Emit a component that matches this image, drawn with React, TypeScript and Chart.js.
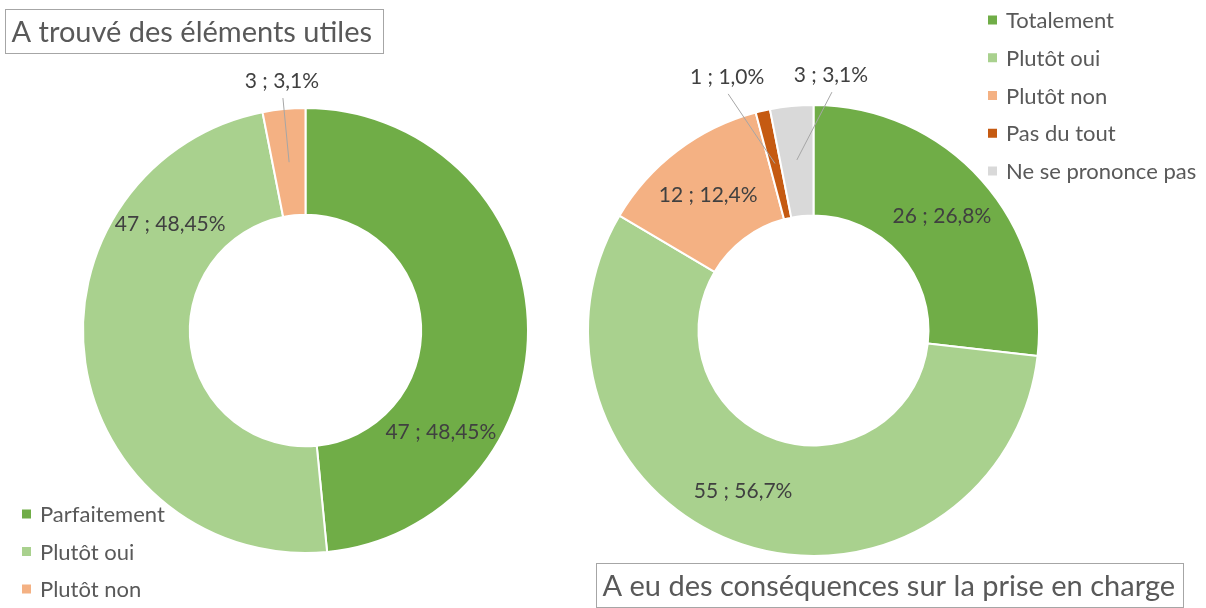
import React, { useEffect, useRef } from "react";
import { Chart, registerables } from "chart.js";

Chart.register(...registerables);

const FONT = "Lato, 'Open Sans', sans-serif";

// ---- Left chart data ----
const leftTitle = "A trouvé des éléments utiles";
const leftCategories = ["Parfaitement", "Plutôt oui", "Plutôt non"];
const leftValues = [47, 47, 3];
const leftPercents = ["48,45%", "48,45%", "3,1%"];
const leftColors = ["#70AD47", "#A9D18E", "#F4B183"];

// ---- Right chart data ----
const rightTitle = "A eu des conséquences sur la prise en charge";
const rightCategories = ["Totalement", "Plutôt oui", "Plutôt non", "Pas du tout", "Ne se prononce pas"];
const rightValues = [26, 55, 12, 1, 3];
const rightPercents = ["26,8%", "56,7%", "12,4%", "1,0%", "3,1%"];
const rightColors = ["#70AD47", "#A9D18E", "#F4B183", "#C55A11", "#D9D9D9"];

// label placement: [angle in degrees (clockwise from 3 o'clock), radius ratio, leader line]
const leftLabelPlacement: [number, number, boolean][] = [
  [36.8, 0.76, false],
  [218.2, 0.774, false],
  [-95.4, 1.126, true],
];
const rightLabelPlacement: [number, number, boolean][] = [
  [-41.7, 0.763, false],
  [113.6, 0.78, false],
  [-127.9, 0.76, false],
  [-108.8, 1.188, true],
  [-86.1, 1.135, true],
];

type Cfg = {
  title: string;
  categories: string[];
  values: number[];
  percents: string[];
  colors: string[];
  placement: [number, number, boolean][];
  padding: { left: number; right: number; top: number; bottom: number };
  radius: number;
  cutout: string;
  titleBox: { x: number; y: number; w: number; h: number };
  legend: { x: number; y: number; step: number };
};

const leftCfg: Cfg = {
  title: leftTitle,
  categories: leftCategories,
  values: leftValues,
  percents: leftPercents,
  colors: leftColors,
  placement: leftLabelPlacement,
  padding: { left: 75.5, right: 670.5, top: 100.5, bottom: 47.5 },
  radius: 222.5,
  cutout: "52%",
  titleBox: { x: 5.5, y: 9.5, w: 378, h: 44 },
  legend: { x: 22, y: 514, step: 37.5 },
};

const rightCfg: Cfg = {
  title: rightTitle,
  categories: rightCategories,
  values: rightValues,
  percents: rightPercents,
  colors: rightColors,
  placement: rightLabelPlacement,
  padding: { left: 583.5, right: 162.5, top: 100.5, bottom: 47.5 },
  radius: 225.5,
  cutout: "51%",
  titleBox: { x: 596.5, y: 563.5, w: 587, h: 44 },
  legend: { x: 988, y: 20, step: 37.75 },
};

function makeOverlay(cfg: Cfg) {
  return {
    id: "overlay",
    afterDraw(chart: any) {
      const ctx: CanvasRenderingContext2D = chart.ctx;
      const meta = chart.getDatasetMeta(0);
      const ds = chart.data.datasets[0];
      ctx.save();
      // data labels
      meta.data.forEach((arc: any, i: number) => {
        const p = arc.getProps(["x", "y", "startAngle", "endAngle", "outerRadius"], true);
        const [angDeg, ratio, leader] = cfg.placement[i];
        const a = (angDeg * Math.PI) / 180;
        const lx = p.x + Math.cos(a) * ratio * p.outerRadius;
        const ly = p.y + Math.sin(a) * ratio * p.outerRadius;
        if (leader) {
          const mid = (p.startAngle + p.endAngle) / 2;
          const ex = p.x + Math.cos(mid) * 0.76 * p.outerRadius;
          const ey = p.y + Math.sin(mid) * 0.76 * p.outerRadius;
          ctx.strokeStyle = "#A6A6A6";
          ctx.lineWidth = 1;
          ctx.beginPath();
          ctx.moveTo(lx + 1, ly + 17);
          ctx.lineTo(ex, ey);
          ctx.stroke();
        }
        ctx.fillStyle = "#404040";
        ctx.font = `21px ${FONT}`;
        ctx.textAlign = "center";
        ctx.textBaseline = "middle";
        ctx.fillText(`${ds.data[i]} ; ${cfg.percents[i]}`, lx, ly);
      });
      // legend
      const labels: string[] = chart.data.labels;
      labels.forEach((lab, i) => {
        const y = cfg.legend.y + i * cfg.legend.step;
        ctx.fillStyle = ds.backgroundColor[i];
        ctx.fillRect(cfg.legend.x, y - 4.5, 9, 9);
        ctx.fillStyle = "#595959";
        ctx.font = `22px ${FONT}`;
        ctx.textAlign = "left";
        ctx.textBaseline = "middle";
        ctx.fillText(lab, cfg.legend.x + 18, y + 1);
      });
      // title box
      const b = cfg.titleBox;
      ctx.strokeStyle = "#A6A6A6";
      ctx.lineWidth = 1;
      ctx.strokeRect(b.x, b.y, b.w, b.h);
      ctx.fillStyle = "#595959";
      ctx.font = `29px ${FONT}`;
      ctx.textAlign = "left";
      ctx.textBaseline = "middle";
      ctx.fillText(cfg.title, b.x + 6, b.y + b.h / 2 + 1);
      ctx.restore();
    },
  };
}

function DoughnutCanvas({ cfg }: { cfg: Cfg }) {
  const ref = useRef<HTMLCanvasElement | null>(null);
  useEffect(() => {
    if (!ref.current) return;
    const chart = new Chart(ref.current, {
      type: "doughnut",
      data: {
        labels: cfg.categories,
        datasets: [
          {
            data: cfg.values,
            backgroundColor: cfg.colors,
            borderColor: "#FFFFFF",
            borderWidth: 2,
            hoverOffset: 0,
            hoverBorderWidth: 2,
          } as any,
        ],
      },
      options: {
        responsive: false,
        animation: false,
        devicePixelRatio: 1,
        events: [],
        radius: cfg.radius,
        cutout: cfg.cutout,
        layout: { padding: cfg.padding },
        plugins: {
          legend: { display: false },
          tooltip: { enabled: false },
          title: { display: false },
        },
      } as any,
      plugins: [makeOverlay(cfg)],
    });
    return () => chart.destroy();
  }, [cfg]);
  return (
    <canvas
      ref={ref}
      width={1206}
      height={608}
      style={{ position: "absolute", left: 0, top: 0, width: 1206, height: 608 }}
    />
  );
}

export default function App() {
  return (
    <div
      style={{
        position: "fixed",
        left: 0,
        top: 0,
        width: 1206,
        height: 608,
        background: "#FFFFFF",
        overflow: "hidden",
      }}
    >
      <DoughnutCanvas cfg={leftCfg} />
      <DoughnutCanvas cfg={rightCfg} />
    </div>
  );
}
